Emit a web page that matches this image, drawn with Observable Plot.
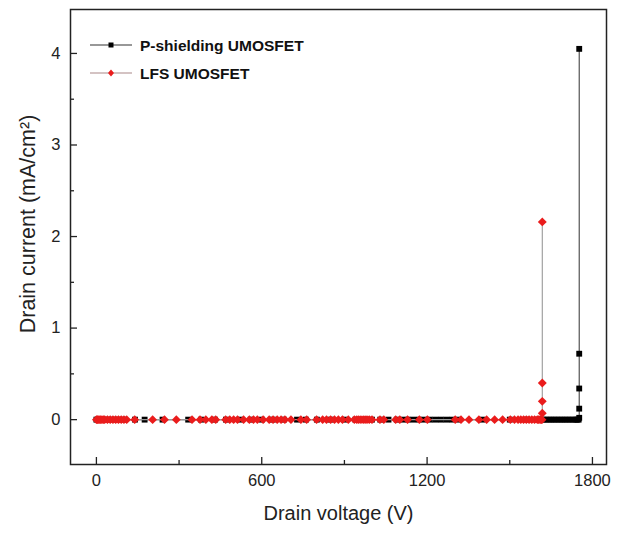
<!DOCTYPE html>
<html>
<head>
<meta charset="utf-8">
<script src="https://cdn.jsdelivr.net/npm/d3@7"></script>
<script src="https://cdn.jsdelivr.net/npm/@observablehq/plot@0.6"></script>
<style>
  html, body { margin: 0; padding: 0; background: #fff; }
  #chart { width: 619px; height: 533px; }
  svg { font-family: "Liberation Sans", Arial, sans-serif; }
</style>
</head>
<body>
<div id="chart"></div>
<script>
// ---- data ----
const seriesNames = ["P-shielding UMOSFET", "LFS UMOSFET"];
const xTicks = [0, 600, 1200, 1800];
const xMinorTicks = [300, 900, 1500];
const yTicks = [0, 1, 2, 3, 4];
const yMinorTicks = [0.5, 1.5, 2.5, 3.5];

const pVoltage = [0,5,10,20,40,60,80,100,140,175,240,333,380,430,470,520,560,600,640,680,728,760,800,850,900,940,960,980,1000,1030,1060,1090,1110,1130,1150,1170,1190,1210,1230,1250,1270,1290,1316,1400,1500,1560,1600,1620,1630,1640,1650,1660,1670,1680,1690,1700,1710,1720,1730,1740,1745,1750,1752,1752,1752,1752,1752];
const pCurrent = [0,0,0,0,0,0,0,0,0,0,0,0,0,0,0,0,0,0,0,0,0,0,0,0,0,0,0,0,0,0,0,0,0,0,0,0,0,0,0,0,0,0,0,0,0,0,0,0,0,0,0,0,0,0,0,0,0,0,0,0,0,0,0.02,0.12,0.34,0.72,4.05];

const lVoltage = [0,3,6,10,15,20,25,30,40,50,60,70,80,90,100,110,139,204,247,290,347,376,397,419,433,469,484,498,512,534,555,570,584,605,627,641,656,670,684,706,742,763,799,821,835,850,864,878,893,914,936,945,952,960,968,975,982,990,1000,1029,1043,1086,1101,1129,1172,1201,1302,1323,1352,1388,1416,1445,1474,1502,1517,1530,1540,1550,1560,1570,1580,1590,1600,1605,1610,1614,1617,1618,1618,1618,1618];
const lCurrent = [0,0,0,0,0,0,0,0,0,0,0,0,0,0,0,0,0,0,0,0,0,0,0,0,0,0,0,0,0,0,0,0,0,0,0,0,0,0,0,0,0,0,0,0,0,0,0,0,0,0,0,0,0,0,0,0,0,0,0,0,0,0,0,0,0,0,0,0,0,0,0,0,0,0,0,0,0,0,0,0,0,0,0,0,0,0,0,0.07,0.2,0.4,2.16];

const pData = pVoltage.map((v, i) => ({v, c: pCurrent[i]}));
const lData = lVoltage.map((v, i) => ({v, c: lCurrent[i]}));

const red = "#ea1c1c";
const font = "'Liberation Sans', Arial, sans-serif";

// legend drawn inside the frame
function legend(index, scales, values, dims) {
  const g = d3.create("svg:g");
  const x0 = dims.marginLeft + 20, x1 = dims.marginLeft + 62;
  const items = [
    {name: seriesNames[0], y: dims.marginTop + 36, line: "#333", fill: "#000", sym: "square"},
    {name: seriesNames[1], y: dims.marginTop + 64, line: "#a88", fill: red, sym: "diamond"}
  ];
  for (const it of items) {
    g.append("line").attr("x1", x0).attr("x2", x1).attr("y1", it.y).attr("y2", it.y)
      .attr("stroke", it.line).attr("stroke-width", 1.2);
    const xm = (x0 + x1) / 2;
    if (it.sym === "square") {
      g.append("rect").attr("x", xm - 2.5).attr("y", it.y - 2.5).attr("width", 5).attr("height", 5).attr("fill", it.fill);
    } else {
      g.append("path").attr("d", `M${xm},${it.y-3.5}L${xm+3},${it.y}L${xm},${it.y+3.5}L${xm-3},${it.y}Z`).attr("fill", it.fill);
    }
    g.append("text").attr("x", x1 + 8).attr("y", it.y).attr("dy", "0.36em")
      .attr("text-anchor", "start")
      .attr("font-size", 15.5).attr("font-weight", "bold").attr("font-family", font)
      .attr("fill", "#111").text(it.name);
  }
  return g.node();
}

const chart = Plot.plot({
  width: 619,
  height: 533,
  marginLeft: 70,
  marginRight: 13,
  marginTop: 9,
  marginBottom: 69,
  style: {fontFamily: font, background: "#fff", color: "#222"},
  x: {domain: [-94, 1851]},
  y: {domain: [-0.49, 4.48]},
  marks: [
    Plot.axisX({ticks: xTicks, tickSize: -7, tickPadding: 17, fontSize: 16.5, label: null, tickFormat: d => String(d), strokeWidth: 1.3}),
    Plot.axisX({ticks: xMinorTicks, tickSize: -4, text: null, label: null, strokeWidth: 1.3}),
    Plot.axisY({ticks: yTicks, tickSize: -7, tickPadding: 17, fontSize: 16.5, label: null, tickFormat: d => String(d), strokeWidth: 1.3}),
    Plot.axisY({ticks: yMinorTicks, tickSize: -4, text: null, label: null, strokeWidth: 1.3}),
    Plot.line(pData, {x: "v", y: "c", stroke: "#444", strokeWidth: 1.1}),
    Plot.dot(pData, {x: "v", y: "c", symbol: "square", r: 3.3, fill: "#000", stroke: "none"}),
    Plot.line(lData, {x: "v", y: "c", stroke: "#999", strokeWidth: 1.1}),
    Plot.dot(lData, {x: "v", y: "c", symbol: "diamond2", r: 4, fill: red, stroke: "none"}),
    Plot.frame({stroke: "#222", strokeWidth: 1.5}),
    legend,
    Plot.text(["Drain voltage (V)"], {frameAnchor: "bottom", dy: 55, fontSize: 20, fill: "#222"}),
    Plot.text(["Drain current (mA/cm²)"], {frameAnchor: "left", textAnchor: "middle", rotate: -90, dx: -42, dy: -13, fontSize: 21.5, fill: "#222"})
  ]
});
document.getElementById("chart").appendChild(chart);
</script>
</body>
</html>
